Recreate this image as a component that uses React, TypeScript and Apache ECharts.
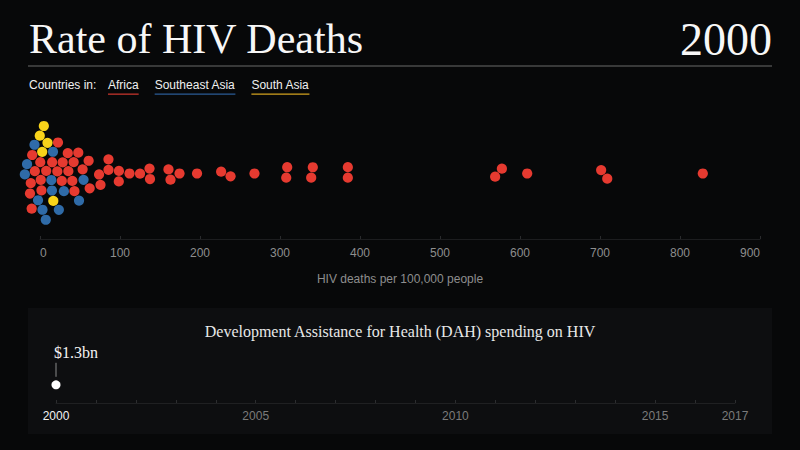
import { useEffect, useRef } from "react";
import * as echarts from "echarts";

// ---------- data ----------
const TITLE = "Rate of HIV Deaths";
const YEAR = "2000";
const LEGEND_LEAD = "Countries in:";
const REGIONS = ["Africa", "Southeast Asia", "South Asia"];
const X_AXIS_NAME = "HIV deaths per 100,000 people";
const X_MIN = 0;
const X_MAX = 900;
const X_STEP = 100;

const africa = [
  -11.9, -11, -10.3, -9.4, -4.4, 0.3, 0.3, 1.3, 8.8, 14.4, 20.3, 21.9, 26.9,
  28.5, 34.8, 36, 40, 41.9, 43.1, 47.3, 53.5, 60.6, 61.9, 74.4, 75.6, 85.6,
  85.6, 98.1, 98.5, 111.9, 125, 136.9, 137.5, 160.6, 163.1, 174.4, 196.3,
  226.5, 238.1, 268.1, 307.8, 309, 339, 341, 384.8, 384.8, 569, 577.3, 609,
  701.5, 709, 828.5,
];
const southeastAsia = [
  -17.5, -15.6, -6.3, -3.1, 2.3, 6.9, 13.1, 14.8, 16, 23.1, 29.8, 48.5, 54.6,
];
const southAsia = [0.6, 2.8, 4.4, 9.8, 16.9];

const SUBTITLE = "Development Assistance for Health (DAH) spending on HIV";
const DAH_YEARS = [2000];
const DAH_VALUES = [1.3]; // $ billions
const DAH_LABELS = ["$1.3bn"];
const TIMELINE_START = 2000;
const TIMELINE_END = 2017;
const TIMELINE_LABEL_YEARS = [2000, 2005, 2010, 2015, 2017];

// ---------- styles ----------
const BG = "#070809";
const PANEL = "#0d0e10";
const DOT_COLORS = ["#e63a30", "#2f6ba8", "#f8d31a"];
const UNDERLINE_COLORS = ["#c2342c", "#2b5b96", "#d3a21f"];
const SANS = '"Liberation Sans", Arial, sans-serif';
const SERIF = '"Liberation Serif", "Times New Roman", serif';

const W = 800;
const H = 450;
const GRID_LEFT = 40;
const GRID_RIGHT = 40;
const GRID_TOP = 108;
const GRID_BOTTOM = 211;
const DOT = 10.2;
const COLLIDE = 10.5;

type Node = { s: number; v: number; tx: number; x: number; y: number };

function swarm(groups: number[][], pxPerUnit: number) {
  const nodes: Node[] = [];
  groups.forEach((arr, s) =>
    arr.forEach((v) => nodes.push({ s, v, tx: v * pxPerUnit, x: v * pxPerUnit, y: 0 }))
  );
  const order = nodes.slice().sort((a, b) => a.tx - b.tx);
  const placed: Node[] = [];
  const d2 = COLLIDE * COLLIDE;
  let flip = 1;
  for (const n of order) {
    const cands = [0];
    for (const p of placed) {
      const dx = n.tx - p.x;
      if (Math.abs(dx) < COLLIDE) {
        const h = Math.sqrt(d2 - dx * dx);
        cands.push(p.y + h, p.y - h);
      }
    }
    const f = flip;
    cands.sort((a, b) => Math.abs(a) - Math.abs(b) || (a - b) * f);
    flip = -flip;
    for (const y of cands) {
      let ok = true;
      for (const p of placed) {
        const dx = n.tx - p.x;
        const dy = y - p.y;
        if (dx * dx + dy * dy < d2 - 1e-6) {
          ok = false;
          break;
        }
      }
      if (ok) {
        n.x = n.tx;
        n.y = y;
        break;
      }
    }
    placed.push(n);
  }
  const collide = () => {
    for (let i = 0; i < nodes.length; i++) {
      for (let j = i + 1; j < nodes.length; j++) {
        const a = nodes[i];
        const b = nodes[j];
        let dx = b.x - a.x;
        let dy = b.y - a.y;
        let dist = Math.sqrt(dx * dx + dy * dy);
        if (dist < COLLIDE) {
          if (dist < 1e-6) {
            dx = 0;
            dy = 1;
            dist = 1;
          }
          const push = (COLLIDE - dist) / 2 / dist;
          a.x -= dx * push;
          a.y -= dy * push;
          b.x += dx * push;
          b.y += dy * push;
        }
      }
    }
  };
  // gentle relaxation: keep x near its value, ease dots toward the centre line
  for (let it = 0; it < 200; it++) {
    for (const n of nodes) {
      n.x += (n.tx - n.x) * 0.5;
      n.y *= 0.992;
    }
    for (let k = 0; k < 6; k++) collide();
  }
  for (let k = 0; k < 30; k++) collide();
  return nodes;
}

function textWidth(text: string, font: string) {
  const c = document.createElement("canvas").getContext("2d");
  if (!c) return text.length * 6;
  c.font = font;
  return c.measureText(text).width;
}

export default function App() {
  const ref = useRef<HTMLDivElement>(null);

  useEffect(() => {
    document.body.style.margin = "0";
    document.body.style.background = BG;
    if (!ref.current) return;
    const chart = echarts.init(ref.current, null, { renderer: "svg" });

    const pxPerUnit = (W - GRID_LEFT - GRID_RIGHT) / (X_MAX - X_MIN);
    const nodes = swarm([africa, southeastAsia, southAsia], pxPerUnit);
    const halfH = (H - GRID_BOTTOM - GRID_TOP) / 2;

    const scatterSeries = REGIONS.map((name, s) => ({
      type: "scatter",
      name,
      xAxisIndex: 0,
      yAxisIndex: 0,
      clip: false,
      symbol: "circle",
      symbolSize: DOT,
      itemStyle: { color: DOT_COLORS[s], opacity: 1 },
      emphasis: { disabled: true },
      data: nodes.filter((n) => n.s === s).map((n) => [n.x / pxPerUnit, n.y]),
    }));

    // legend graphics
    const legendFont = `12px ${SANS}`;
    const legendEls: any[] = [
      {
        type: "text",
        x: 29,
        y: 85,
        style: { text: LEGEND_LEAD, fill: "#f0f0f0", font: legendFont, verticalAlign: "middle" },
      },
    ];
    let lx = 108;
    REGIONS.forEach((name, i) => {
      const w = textWidth(name, legendFont);
      legendEls.push({
        type: "text",
        x: lx,
        y: 85,
        style: { text: name, fill: "#f0f0f0", font: legendFont, verticalAlign: "middle" },
      });
      legendEls.push({
        type: "rect",
        shape: { x: lx, y: 93.5, width: w, height: 1.3 },
        style: { fill: UNDERLINE_COLORS[i] },
      });
      lx += w + 16;
    });

    chart.setOption({
      animation: false,
      backgroundColor: BG,
      grid: [
        { left: GRID_LEFT, right: GRID_RIGHT, top: GRID_TOP, bottom: GRID_BOTTOM },
        { left: 56, right: 65, top: 340, bottom: 47 },
      ],
      xAxis: [
        {
          gridIndex: 0,
          type: "value",
          min: X_MIN,
          max: X_MAX,
          interval: X_STEP,
          axisLine: { show: true, onZero: false, lineStyle: { color: "#1c1d1f", width: 1 } },
          axisTick: { show: true, inside: true, length: 3, lineStyle: { color: "#2a2b2d" } },
          splitLine: { show: false },
          axisLabel: {
            color: "#8e8e8e",
            fontSize: 12,
            fontFamily: SANS,
            margin: 8,
            alignMinLabel: "left",
            alignMaxLabel: "right",
          },
          name: X_AXIS_NAME,
          nameLocation: "middle",
          nameGap: 34,
          nameTextStyle: { color: "#8e8e8e", fontSize: 12, fontFamily: SANS },
        },
        {
          gridIndex: 1,
          type: "value",
          min: TIMELINE_START,
          max: TIMELINE_END,
          interval: 1,
          axisLine: { show: true, onZero: false, lineStyle: { color: "#1f2022", width: 1 } },
          axisTick: { show: true, inside: true, length: 3, lineStyle: { color: "#2c2d2f" } },
          splitLine: { show: false },
          axisLabel: {
            margin: 7,
            formatter: (v: number) =>
              TIMELINE_LABEL_YEARS.includes(v)
                ? v === DAH_YEARS[DAH_YEARS.length - 1]
                  ? `{hl|${v}}`
                  : `{n|${v}}`
                : "",
            rich: {
              hl: { color: "#f2f2f2", fontSize: 12, fontFamily: SANS },
              n: { color: "#7b7b7b", fontSize: 12, fontFamily: SANS },
            },
          },
        },
      ],
      yAxis: [
        { gridIndex: 0, type: "value", min: -halfH, max: halfH, show: false },
        { gridIndex: 1, type: "value", min: 0, max: 4.5, show: false },
      ],
      series: [
        ...scatterSeries,
        {
          type: "custom",
          xAxisIndex: 1,
          yAxisIndex: 1,
          clip: false,
          data: DAH_YEARS.map((y, i) => [y, DAH_VALUES[i]]),
          renderItem: (params: any, api: any) => {
            const p = api.coord([api.value(0), api.value(1)]);
            return {
              type: "group",
              children: [
                {
                  type: "line",
                  shape: { x1: p[0], y1: p[1] - 8, x2: p[0], y2: p[1] - 22 },
                  style: { stroke: "#8a8a8a", lineWidth: 1 },
                },
                {
                  type: "circle",
                  shape: { cx: p[0], cy: p[1], r: 4.5 },
                  style: { fill: "#ffffff" },
                },
                {
                  type: "text",
                  x: p[0] - 2,
                  y: p[1] - 32,
                  style: {
                    text: DAH_LABELS[params.dataIndex],
                    fill: "#f4f4f4",
                    font: `16px ${SERIF}`,
                    align: "left",
                    verticalAlign: "middle",
                  },
                },
              ],
            };
          },
        },
      ],
      graphic: [
        {
          type: "rect",
          z: -10,
          shape: { x: 28, y: 308, width: 744, height: 126 },
          style: { fill: PANEL },
        },
        {
          type: "text",
          x: 29,
          y: 39,
          style: { text: TITLE, fill: "#f7f7f7", font: `42px ${SERIF}`, verticalAlign: "middle" },
        },
        {
          type: "text",
          x: 772,
          y: 39,
          style: {
            text: YEAR,
            fill: "#f7f7f7",
            font: `46px ${SERIF}`,
            align: "right",
            verticalAlign: "middle",
          },
        },
        {
          type: "line",
          shape: { x1: 28, y1: 66, x2: 772, y2: 66 },
          style: { stroke: "#6a6a6a", lineWidth: 1 },
        },
        ...legendEls,
        {
          type: "text",
          x: 400,
          y: 331,
          style: {
            text: SUBTITLE,
            fill: "#e8e8e8",
            font: `16px ${SERIF}`,
            align: "center",
            verticalAlign: "middle",
          },
        },
      ],
    });

    return () => chart.dispose();
  }, []);

  return (
    <div
      ref={ref}
      style={{ position: "fixed", left: 0, top: 0, width: W, height: H, background: BG }}
    />
  );
}
